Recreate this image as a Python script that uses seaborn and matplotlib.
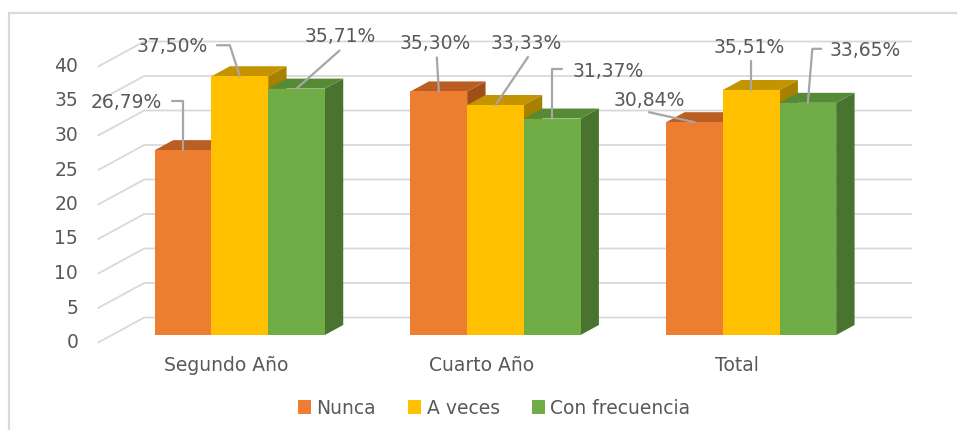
import numpy as np
import pandas as pd
import seaborn as sns
import matplotlib
import matplotlib.pyplot as plt
from matplotlib.patches import Polygon, Rectangle
from matplotlib.transforms import offset_copy

# data
categories = ["Segundo Año", "Cuarto Año", "Total"]
series = ["Nunca", "A veces", "Con frecuencia"]
nunca = [26.79, 35.30, 30.84]
a_veces = [37.50, 33.33, 35.51]
con_frecuencia = [35.71, 31.37, 33.65]
yticks = [0, 5, 10, 15, 20, 25, 30, 35, 40]

# styles
front_colors = ["#ED7D31", "#FFC000", "#70AD47"]
top_colors = ["#BA5E22", "#C49300", "#578A35"]
side_colors = ["#A14F19", "#A88000", "#4A7330"]
grid_color = "#D9D9D9"
text_color = "#595959"
fontsize = 13.5

# label placement, pixels relative to top-front centre of each bar (x right, y down)
# order: hue by hue, category by category
label_text_off = [(-57, -48), (-4, -48), (-45.5, -21.5),
                  (-68, -30), (31, -62), (-1.5, -42),
                  (44, -52), (56, -47.5), (57.5, -52)]
label_leader = [[(0, 0), (0, -49), (-11, -49)],
                [(0, 0), (-2, -34)],
                [(0, 0), (-45.5, -10)],
                [(0, 0), (-10, -31), (-23, -31)],
                [(0, 0), (32.5, -48)],
                [(0, 0), (0, -29)],
                [(0, 0), (43, -38)],
                [(0, 0), (0, -49.5), (10, -49.5)],
                [(0, 0), (4.5, -54), (13.5, -54)]]

# 3d depth (pixels): whole floor depth and bar position inside it
depth = (46, 25)
bar_front, bar_back = 0.3, 0.7

sns.set_style("white")
plt.rcParams['font.family'] = ['DejaVu Sans']

rows = []
for s, vals in zip(series, [nunca, a_veces, con_frecuencia]):
  for c, v in zip(categories, vals):
    rows.append({"categoria": c, "serie": s, "valor": v})
df = pd.DataFrame(rows)

W, H = 957, 430
fig = plt.figure(figsize=(W / 100, H / 100), dpi=100)
ax = fig.add_axes([112 / W, (H - 335) / H, (879 - 112) / W, 276 / H])

sns.barplot(df, x="categoria", y="valor", hue="serie", palette=front_colors,
            saturation=1, width=0.665, linewidth=0, ax=ax)
ax.set_xlim(-0.5, 2.5)
ax.set_ylim(0, 40)
ax.axis("off")

# pixel -> data scale
p0 = ax.transData.transform((0, 0))
p1 = ax.transData.transform((1, 1))
sx, sy = p1[0] - p0[0], p1[1] - p0[1]

def px(dx, dy):
  # pixel offset (y down) to data offset
  return dx / sx, -dy / sy

fx, fy = px(-bar_front * depth[0], bar_front * depth[1])   # front plane
bx_, by_ = px((1 - bar_front) * depth[0], -(1 - bar_front) * depth[1])  # back wall
dx, dy = px((bar_back - bar_front) * depth[0], -(bar_back - bar_front) * depth[1])

# gridlines on floor edge + back wall
for v in yticks:
  ax.plot([-0.5 + fx, -0.5 + bx_, 2.5 + bx_], [v + fy, v + by_, v + by_],
          color=grid_color, lw=1.3, zorder=0, clip_on=False)
  ax.text(-0.5 + fx, v + fy, str(v),
          transform=offset_copy(ax.transData, fig=fig, x=-20, y=0, units='dots'),
          ha="right", va="center", fontsize=fontsize, color=text_color)

for i, c in enumerate(categories):
  ax.text(i + fx, fy, c,
          transform=offset_copy(ax.transData, fig=fig, x=0, y=-23, units='dots'),
          ha="center", va="center", fontsize=fontsize, color=text_color)

# 3d faces
k = 0
for hi, cont in enumerate(ax.containers):
  for ci, bar in enumerate(cont):
    x0 = bar.get_x()
    x1 = x0 + bar.get_width()
    h = bar.get_height()
    z = 2 + hi * 3
    side = Polygon([(x1, 0), (x1 + dx, dy), (x1 + dx, h + dy), (x1, h)],
                   closed=True, fc=side_colors[hi], ec="none", zorder=z, clip_on=False)
    top = Polygon([(x0, h), (x1, h), (x1 + dx, h + dy), (x0 + dx, h + dy)],
                  closed=True, fc=top_colors[hi], ec="none", zorder=z + 1, clip_on=False)
    ax.add_patch(side)
    ax.add_patch(top)
    bar.set_zorder(z + 2)
    bar.set_clip_on(False)

    # data label + leader
    ax_, ay_ = x0 + bar.get_width() / 2, h
    pts = [(ax_ + px(a, b)[0], ay_ + px(a, b)[1]) for a, b in label_leader[k]]
    ax.plot([p[0] for p in pts], [p[1] for p in pts], color="#A6A6A6", lw=1.6,
            zorder=20, clip_on=False)
    tx, ty = label_text_off[k]
    ax.text(ax_, ay_, f"{h:.2f}".replace(".", ",") + "%",
            transform=offset_copy(ax.transData, fig=fig, x=tx, y=-ty, units='dots'),
            ha="center", va="center", fontsize=fontsize, color=text_color, zorder=21)
    k += 1

# legend
handles, labels = ax.get_legend_handles_labels()
ax.get_legend().remove()
fig.legend(handles, labels, loc="center", bbox_to_anchor=(494 / W, (H - 408) / H),
           ncol=3, frameon=False, fontsize=fontsize, labelcolor=text_color,
           handlelength=0.7, handleheight=0.7, handletextpad=0.3, columnspacing=1.7)

# chart border
fig.add_artist(Rectangle((9 / W, -0.1), 1.0, (H - 13) / H + 0.1, transform=fig.transFigure,
                         fill=False, ec=grid_color, lw=1.6))

fig.savefig("out.png", dpi=100)
